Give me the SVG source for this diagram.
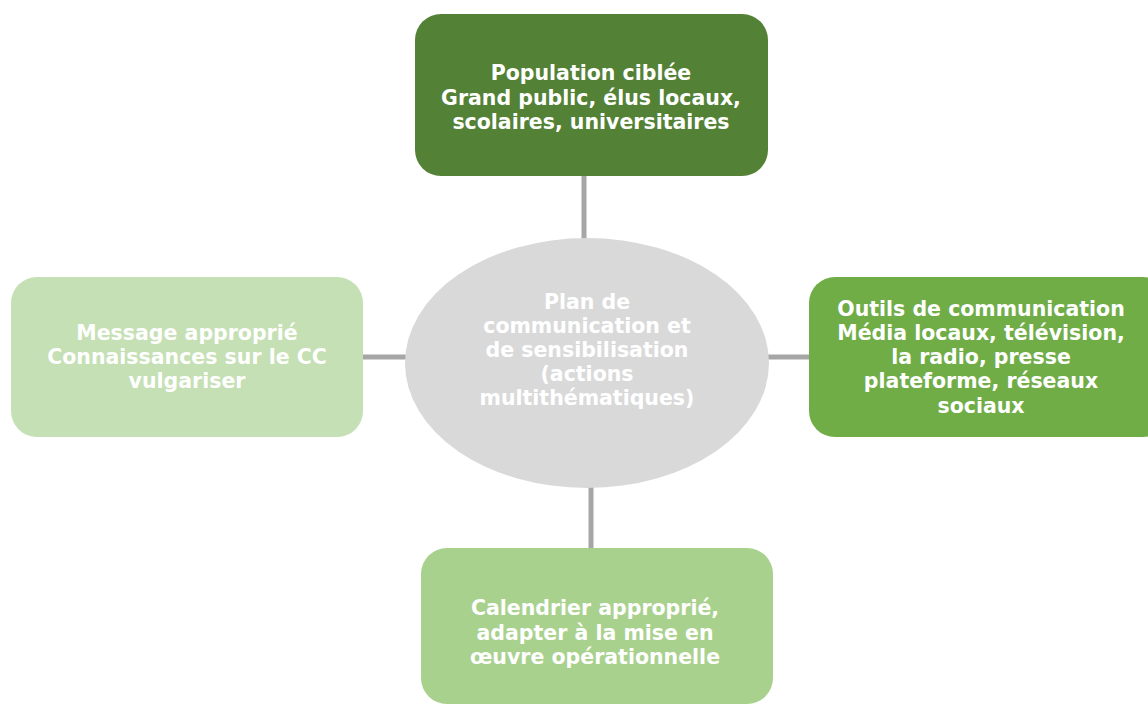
<svg xmlns="http://www.w3.org/2000/svg" width="1148" height="707" viewBox="0 0 1148 707">
<style>
.t{font-family:"DejaVu Sans","Verdana",sans-serif;font-weight:bold;font-size:20.5px;fill:#ffffff;text-anchor:middle;dominant-baseline:central}
.c{stroke:#a6a6a6;stroke-width:5;fill:none}
</style>
<rect width="1148" height="707" fill="#ffffff"/>
<g id="connectors">
<line class="c" x1="584" y1="176" x2="584" y2="240"/>
<line class="c" x1="363" y1="357" x2="407" y2="357"/>
<line class="c" x1="768" y1="357" x2="809" y2="357"/>
<line class="c" x1="591" y1="486" x2="591" y2="548"/>
</g>
<g id="center">
<ellipse cx="587" cy="363" rx="182" ry="125" fill="#d9d9d9"/>
<text class="t" x="587"><tspan x="587" y="302">Plan de</tspan><tspan x="587" y="326">communication et</tspan><tspan x="587" y="350">de sensibilisation</tspan><tspan x="587" y="374">(actions</tspan><tspan x="587" y="398">multithématiques)</tspan></text>
</g>
<g id="top">
<rect x="415" y="14" width="353" height="162" rx="26" fill="#538135"/>
<text class="t"><tspan x="591" y="73">Population ciblée</tspan><tspan x="591" y="98">Grand public, élus locaux,</tspan><tspan x="591" y="122">scolaires, universitaires</tspan></text>
</g>
<g id="right">
<rect x="809" y="277" width="360" height="160" rx="26" fill="#70ad47"/>
<text class="t"><tspan x="981" y="309">Outils de communication</tspan><tspan x="981" y="333">Média locaux, télévision,</tspan><tspan x="981" y="357">la radio, presse</tspan><tspan x="981" y="381">plateforme, réseaux</tspan><tspan x="981" y="406">sociaux</tspan></text>
</g>
<g id="left">
<rect x="11" y="277" width="352" height="160" rx="26" fill="#c5e0b4"/>
<text class="t"><tspan x="187" y="333">Message approprié</tspan><tspan x="187" y="357">Connaissances sur le CC</tspan><tspan x="187" y="381">vulgariser</tspan></text>
</g>
<g id="bottom">
<rect x="421" y="548" width="352" height="156" rx="26" fill="#a9d18e"/>
<text class="t"><tspan x="595" y="608">Calendrier approprié,</tspan><tspan x="595" y="633">adapter à la mise en</tspan><tspan x="595" y="657">œuvre opérationnelle</tspan></text>
</g>
</svg>
